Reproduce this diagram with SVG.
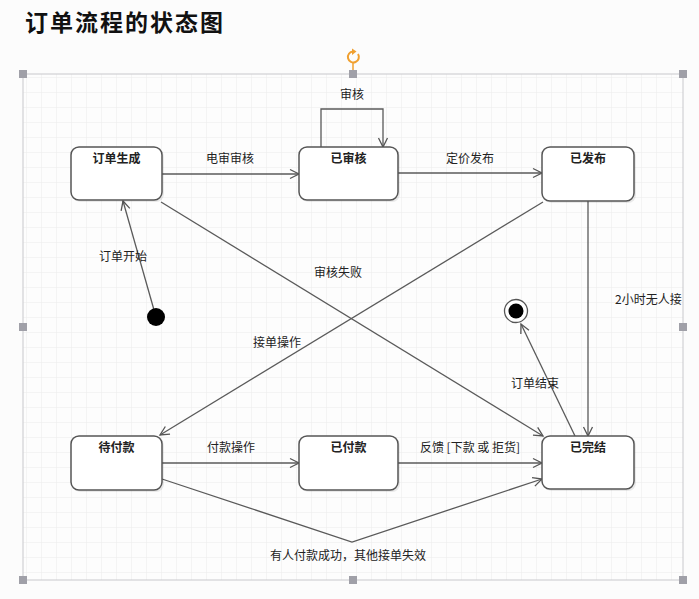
<svg xmlns="http://www.w3.org/2000/svg" width="699" height="599" viewBox="0 0 699 599">
<defs>
<pattern id="grid" x="11" y="2" width="15" height="15" patternUnits="userSpaceOnUse">
<path d="M15,0 L0,0 L0,15" fill="none" stroke="#ebebeb" stroke-width="1"/>
</pattern>
<marker id="arr" markerWidth="12" markerHeight="12" refX="10" refY="6" orient="auto" markerUnits="userSpaceOnUse">
<path d="M1,1.5 L10,6 L1,10.5" fill="none" stroke="#555" stroke-width="1.3"/>
</marker>
</defs>
<style>
.title{font-family:"Noto Sans CJK SC","Noto Sans",sans-serif;font-size:23px;font-weight:bold;fill:#111}
.node rect.box{fill:#fff;stroke:#555;stroke-width:1.5}
.node rect.sh{fill:#000;opacity:0.08}
.nl{font-family:"Noto Sans CJK SC","Noto Sans",sans-serif;font-size:12px;font-weight:bold;fill:#222;text-anchor:middle}
.el{font-family:"Noto Sans CJK SC","Noto Sans",sans-serif;font-size:12px;fill:#222;text-anchor:middle}
.c{fill:none;stroke:#5a5a5a;stroke-width:1.3}
.h{fill:#a0a0a8}
</style>
<rect width="699" height="599" fill="#fcfcfc"/>
<text class="title" x="25" y="31" letter-spacing="2">订单流程的状态图</text>
<rect x="23" y="74" width="660" height="506" fill="#fdfdfd"/>
<rect x="23" y="74" width="660" height="506" fill="url(#grid)"/>
<rect x="23" y="74" width="660" height="506" fill="none" stroke="#c8c8cc" stroke-width="1"/>
<g id="connectors">
<line class="c" x1="162" y1="174" x2="299" y2="174" marker-end="url(#arr)"/>
<text class="el" x="230" y="163">电审审核</text>
<polyline class="c" points="321,147 321,109 383,109 383,147" marker-end="url(#arr)"/>
<text class="el" x="352" y="99">审核</text>
<line class="c" x1="398" y1="173" x2="542" y2="173" marker-end="url(#arr)"/>
<text class="el" x="470" y="163">定价发布</text>
<line class="c" x1="543" y1="202" x2="160" y2="435" marker-end="url(#arr)"/>
<text class="el" x="277" y="347">接单操作</text>
<line class="c" x1="161" y1="202" x2="543" y2="436" marker-end="url(#arr)"/>
<text class="el" x="338" y="277">审核失败</text>
<line class="c" x1="588" y1="201" x2="588" y2="436" marker-end="url(#arr)"/>
<text class="el" x="615" y="304" style="text-anchor:start">2小时无人接</text>
<line class="c" x1="575" y1="436" x2="521" y2="324" marker-end="url(#arr)"/>
<text class="el" x="535" y="388">订单结束</text>
<line class="c" x1="156" y1="317" x2="123" y2="201" marker-end="url(#arr)"/>
<text class="el" x="123" y="261">订单开始</text>
<line class="c" x1="162" y1="463" x2="299" y2="463" marker-end="url(#arr)"/>
<text class="el" x="231" y="452">付款操作</text>
<line class="c" x1="398" y1="463" x2="542" y2="463" marker-end="url(#arr)"/>
<text class="el" x="470" y="452">反馈 [下款 或 拒货]</text>
<polyline class="c" points="162,479 352,542 542,479" marker-end="url(#arr)"/>
<text class="el" x="348" y="560">有人付款成功，其他接单失效</text>
</g>
<g id="start">
<circle cx="156" cy="317" r="9" fill="#000"/>
</g>
<g id="end">
<circle cx="516" cy="311" r="11.5" fill="#fff" stroke="#555" stroke-width="1.3"/>
<circle cx="516" cy="311" r="7.5" fill="#000"/>
</g>
<g id="n1" class="node">
<rect class="sh" x="73" y="149" width="91" height="53" rx="8"/>
<rect class="box" x="71" y="147" width="91" height="53" rx="8"/>
<text class="nl" x="116.5" y="163">订单生成</text>
</g>
<g id="n2" class="node">
<rect class="sh" x="301" y="149" width="99" height="53" rx="8"/>
<rect class="box" x="299" y="147" width="99" height="53" rx="8"/>
<text class="nl" x="348.5" y="163">已审核</text>
</g>
<g id="n3" class="node">
<rect class="sh" x="544" y="149" width="92" height="54" rx="8"/>
<rect class="box" x="542" y="147" width="92" height="54" rx="8"/>
<text class="nl" x="588" y="163">已发布</text>
</g>
<g id="n4" class="node">
<rect class="sh" x="73" y="438" width="91" height="54" rx="8"/>
<rect class="box" x="71" y="436" width="91" height="54" rx="8"/>
<text class="nl" x="116.5" y="452">待付款</text>
</g>
<g id="n5" class="node">
<rect class="sh" x="301" y="438" width="99" height="54" rx="8"/>
<rect class="box" x="299" y="436" width="99" height="54" rx="8"/>
<text class="nl" x="348.5" y="452">已付款</text>
</g>
<g id="n6" class="node">
<rect class="sh" x="544" y="438" width="92" height="53" rx="8"/>
<rect class="box" x="542" y="436" width="92" height="53" rx="8"/>
<text class="nl" x="588" y="452">已完结</text>
</g>
<g id="handles">
<rect class="h" x="19" y="70" width="8" height="8"/>
<rect class="h" x="349" y="70" width="8" height="8"/>
<rect class="h" x="679" y="70" width="8" height="8"/>
<rect class="h" x="19" y="323" width="8" height="8"/>
<rect class="h" x="679" y="323" width="8" height="8"/>
<rect class="h" x="19" y="576" width="8" height="8"/>
<rect class="h" x="349" y="576" width="8" height="8"/>
<rect class="h" x="679" y="576" width="8" height="8"/>
<line x1="353" y1="63" x2="353" y2="70" stroke="#f0a030" stroke-width="1.5"/>
<path d="M358,54 A5.5,5.5 0 1 1 353,51.5" fill="none" stroke="#f0a030" stroke-width="2"/>
<path d="M352,48.5 L356.5,51.5 L352,55 Z" fill="#f0a030"/>
</g>
</svg>
